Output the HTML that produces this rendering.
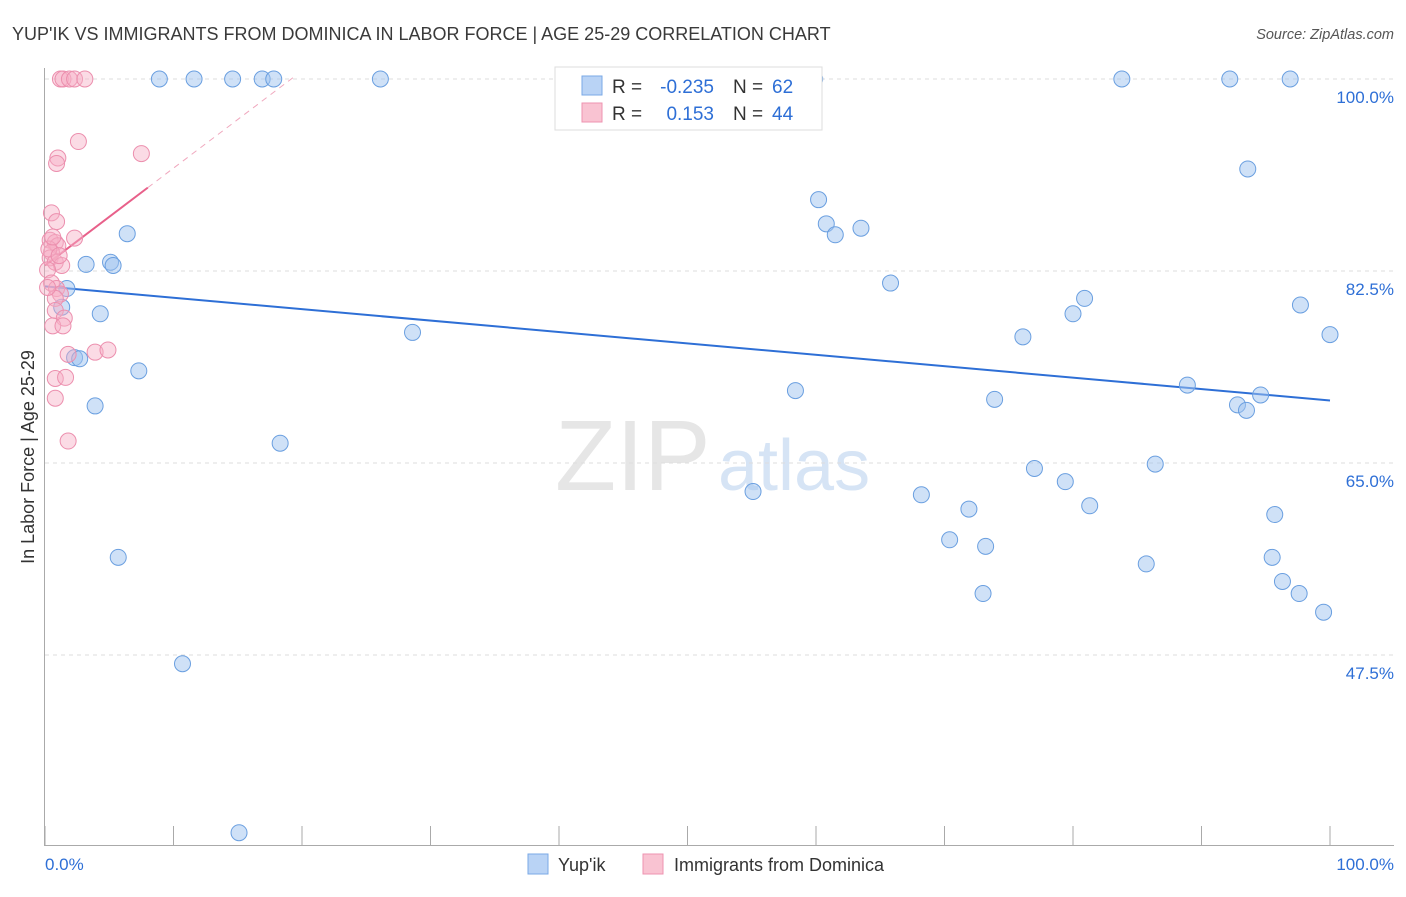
<!DOCTYPE html>
<html><head><meta charset="utf-8"><style>
body{margin:0;background:#fff;font-family:"Liberation Sans",sans-serif;}
svg text{font-family:"Liberation Sans",sans-serif;}
</style></head><body>
<svg id="chart" width="1406" height="892" xmlns="http://www.w3.org/2000/svg">
<text x="12" y="40" font-size="18" fill="#3a3a3a">YUP'IK VS IMMIGRANTS FROM DOMINICA IN LABOR FORCE | AGE 25-29 CORRELATION CHART</text>
<text x="1394" y="39" font-size="14.5" fill="#555" text-anchor="end" font-style="italic">Source: ZipAtlas.com</text>
<text transform="translate(34,457) rotate(-90)" font-size="18" fill="#333" text-anchor="middle">In Labor Force | Age 25-29</text>
<g>
<text x="555" y="490" font-size="100" fill="#e6e6e6" font-family="Liberation Serif,serif">ZIP</text>
<text x="718" y="490" font-size="72" fill="#d6e4f5">atlas</text>
</g>
<g id="grid"></g><g id="axes"></g><g id="trend"></g><g id="pts"></g>
<g>
<rect x="555" y="67" width="267" height="63" fill="#fff" stroke="#ddd"/>
<rect x="582" y="76" width="20" height="19" fill="#b9d3f5" stroke="#7aa8e6"/>
<rect x="582" y="103" width="20" height="19" fill="#f9c3d2" stroke="#ee93b0"/>
<text x="612" y="93" font-size="19" fill="#333">R =</text>
<text x="714" y="93" font-size="19" fill="#2e6fd6" text-anchor="end">-0.235</text>
<text x="733" y="93" font-size="19" fill="#333">N =</text>
<text x="772" y="93" font-size="19" fill="#2e6fd6">62</text>
<text x="612" y="120" font-size="19" fill="#333">R =</text>
<text x="714" y="120" font-size="19" fill="#2e6fd6" text-anchor="end">0.153</text>
<text x="733" y="120" font-size="19" fill="#333">N =</text>
<text x="772" y="120" font-size="19" fill="#2e6fd6">44</text>
</g>
<g>
<rect x="528" y="854" width="20" height="20" fill="#b9d3f5" stroke="#7aa8e6"/>
<text x="558" y="871" font-size="18" fill="#333">Yup'ik</text>
<rect x="643" y="854" width="20" height="20" fill="#f9c3d2" stroke="#ee93b0"/>
<text x="674" y="871" font-size="18" fill="#333">Immigrants from Dominica</text>
</g>
<text x="45" y="870" font-size="17" fill="#2e6fd6">0.0%</text>
<text x="1394" y="870" font-size="17" fill="#2e6fd6" text-anchor="end">100.0%</text>
</svg>
<script>
const yTicks=[100,82.5,65,47.5];
const yTickLabels=["100.0%","82.5%","65.0%","47.5%"];
const xTicks=[0,10,20,30,40,50,60,70,80,90,100];
const blueX=[8.9,11.6,14.6,16.9,17.8,26.1,50.0,59.9,83.8,92.2,96.9,93.6,60.2,60.8,61.5,63.5,6.4,3.2,5.1,5.3,1.7,65.8,80.9,80.0,97.7,100,76.1,4.3,1.3,28.6,2.3,2.7,7.3,58.4,88.9,73.9,94.6,92.8,93.5,3.9,18.3,77.0,86.4,79.4,55.1,68.2,81.3,71.9,95.7,70.4,73.2,85.7,95.5,96.3,97.6,73.0,99.5,5.7,10.7,15.1];
const blueY=[100,100,100,100,100,100,100,100,100,100,100,91.8,89.0,86.8,85.8,86.4,85.9,83.1,83.3,83.0,80.9,81.4,80.0,78.6,79.4,76.7,76.5,78.6,79.2,76.9,74.6,74.5,73.4,71.6,72.1,70.8,71.2,70.3,69.8,70.2,66.8,64.5,64.9,63.3,62.4,62.1,61.1,60.8,60.3,58.0,57.4,55.8,56.4,54.2,53.1,53.1,51.4,56.4,46.7,31.3];
const pinkX=[1.2,1.4,1.9,2.3,3.1,2.6,7.5,1.0,0.9,0.5,0.9,2.3,0.4,0.8,1.0,0.5,0.4,0.8,1.3,0.2,0.5,0.9,1.2,0.8,0.8,1.5,0.6,1.4,1.8,3.9,4.9,0.8,1.6,0.8,1.8,0.3,0.6,1.1,0.2];
const pinkY=[100,100,100,100,100,94.3,93.2,92.8,92.3,87.8,87.0,85.5,85.3,85.1,84.8,84.2,83.7,83.3,83.0,82.6,81.4,80.9,80.4,80.0,78.9,78.2,77.5,77.5,74.9,75.1,75.3,72.7,72.8,70.9,67.0,84.5,85.6,83.9,81.0];
const blueTrend=[81.1,70.7];
const pinkTrend=[83.0,90.1,100.3];
const pinkTrendX=[0,8.0,19.5];

const NS="http://www.w3.org/2000/svg";
const X=v=>45+v*12.85;
const Y=v=>79+(100-v)*10.971;
function mk(tag,attrs,parent){const e=document.createElementNS(NS,tag);for(const k in attrs)e.setAttribute(k,attrs[k]);document.getElementById(parent).appendChild(e);return e;}
yTicks.forEach((t,i)=>{
  const l=mk('line',{x1:45,x2:1394,y1:Y(t),y2:Y(t),stroke:'#ddd','stroke-dasharray':'4,4'},'grid');
  
  
  const tx=mk('text',{x:1394,y:Y(t)+24,'font-size':17,fill:'#2e6fd6','text-anchor':'end'},'grid');
  tx.textContent=yTickLabels[i];
  
  
});
const ax=mk('line',{x1:44.5,x2:44.5,y1:68,y2:845,stroke:'#aaa'},'axes');


const bx=mk('line',{x1:44,x2:1394,y1:845.5,y2:845.5,stroke:'#aaa'},'axes');


xTicks.forEach(t=>{
  const l=mk('line',{x1:X(t),x2:X(t),y1:826,y2:845,stroke:'#aaa'},'axes');
  
  
});
const bt=mk('line',{x1:X(0),y1:Y(blueTrend[0]),x2:X(100),y2:Y(blueTrend[1]),stroke:'#2e6fd6','stroke-width':2},'trend');


const pt=mk('line',{x1:X(pinkTrendX[0]),y1:Y(pinkTrend[0]),x2:X(pinkTrendX[1]),y2:Y(pinkTrend[1]),stroke:'#e8608a','stroke-width':2},'trend');


const pd=mk('line',{x1:X(pinkTrendX[1]),y1:Y(pinkTrend[1]),x2:X(pinkTrendX[2]),y2:Y(pinkTrend[2]),stroke:'#f0a8be','stroke-width':1,'stroke-dasharray':'6,5'},'trend');


blueX.forEach((x,i)=>{
  const c=mk('circle',{cx:X(x),cy:Y(blueY[i]),r:8,fill:'rgba(160,196,240,0.5)',stroke:'#6a9fe0','stroke-width':1},'pts');
  
  
});
pinkX.forEach((x,i)=>{
  const c=mk('circle',{cx:X(x),cy:Y(pinkY[i]),r:8,fill:'rgba(246,176,198,0.45)',stroke:'#ec8fae','stroke-width':1},'pts');
  
  
});
</script>
</body></html>
